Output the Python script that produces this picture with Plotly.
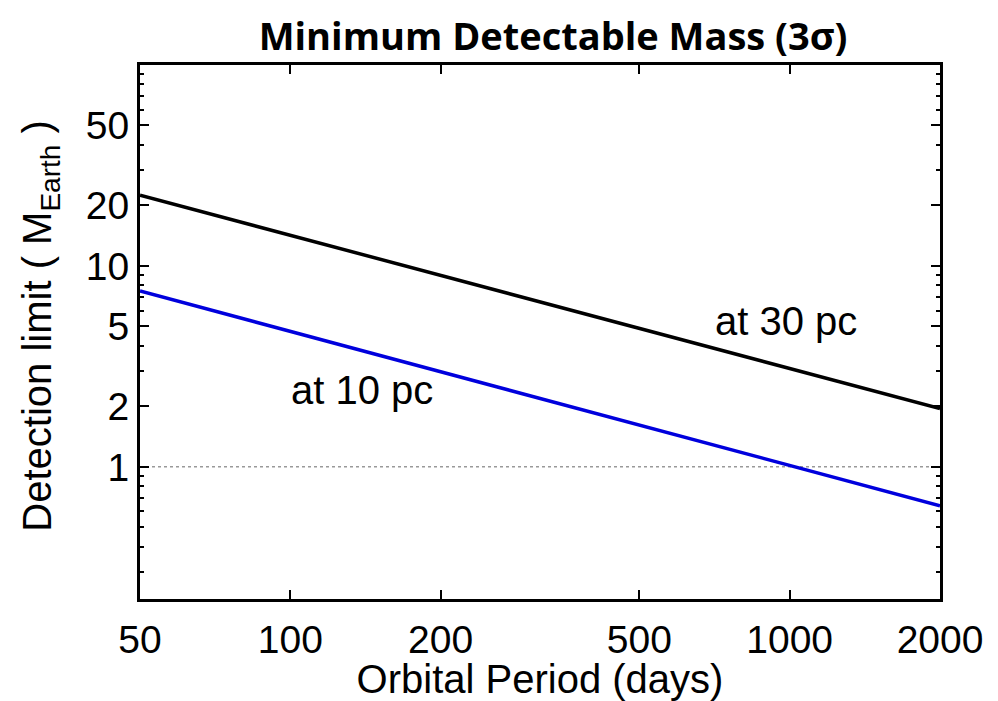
import plotly.graph_objects as go
import math

period_days = [50, 2000]
mass_30pc = [22.5, 1.95]
mass_10pc = [7.5, 0.64]
ref_level = [1, 1]
x_ticks = [50, 100, 200, 500, 1000, 2000]
y_ticks = [1, 2, 5, 10, 20, 50]
y_minor = [0.3, 0.4, 0.5, 0.6, 0.7, 0.8, 0.9, 3, 4, 6, 7, 8, 9, 30, 40, 60, 70, 80, 90]

fig = go.Figure()
fig.add_trace(go.Scatter(x=period_days, y=ref_level, mode="lines",
                         line=dict(color="#999999", width=1.5, dash="dot"), showlegend=False))
fig.add_trace(go.Scatter(x=period_days, y=mass_30pc, mode="lines",
                         line=dict(color="black", width=3.5), showlegend=False))
fig.add_trace(go.Scatter(x=period_days, y=mass_10pc, mode="lines",
                         line=dict(color="#0000dd", width=3.5), showlegend=False))

font = "Liberation Sans, Arial, sans-serif"
fig.add_annotation(x=math.log10(985), y=math.log10(5.3), text="at 30 pc", showarrow=False,
                   font=dict(family=font, size=40, color="black"))
fig.add_annotation(x=math.log10(139), y=math.log10(2.42), text="at 10 pc", showarrow=False,
                   font=dict(family=font, size=40, color="black"))
fig.add_annotation(xref="paper", yref="paper", x=-0.125, y=0.51, textangle=-90,
                   text="Detection limit ( M<sub>Earth</sub> )", showarrow=False,
                   xanchor="center", yanchor="middle",
                   font=dict(family=font, size=40, color="black"))

axis_common = dict(showline=True, linecolor="black", linewidth=3, mirror="allticks",
                   ticks="inside", ticklen=9, tickwidth=2, tickcolor="black",
                   showgrid=False, zeroline=False,
                   tickfont=dict(family=font, size=39, color="black"))

fig.update_xaxes(type="log", range=[math.log10(50), math.log10(2000)],
                 tickmode="array", tickvals=x_ticks, ticktext=[str(v) for v in x_ticks],
                 ticklabelstandoff=4,
                 title=dict(text="Orbital Period (days)", font=dict(family=font, size=40, color="black"), standoff=0),
                 **axis_common)
fig.update_yaxes(type="log", range=[math.log10(0.22), 2],
                 tickmode="array", tickvals=y_ticks, ticktext=[str(v) for v in y_ticks],
                 minor=dict(tickmode="array", tickvals=y_minor, ticks="inside", ticklen=4,
                            tickwidth=1.5, tickcolor="black", showgrid=False),
                 **axis_common)

fig.update_layout(
    width=990, height=693,
    paper_bgcolor="white", plot_bgcolor="white",
    margin=dict(l=132, r=58, t=57, b=95),
    title=dict(text="<b>Minimum Detectable Mass (3σ)</b>", x=0.5505, xanchor="center", y=0.958, yanchor="middle",
               font=dict(family="Open Sans, Lato, sans-serif", size=38, color="black")),
)

fig.write_html("out.html")
